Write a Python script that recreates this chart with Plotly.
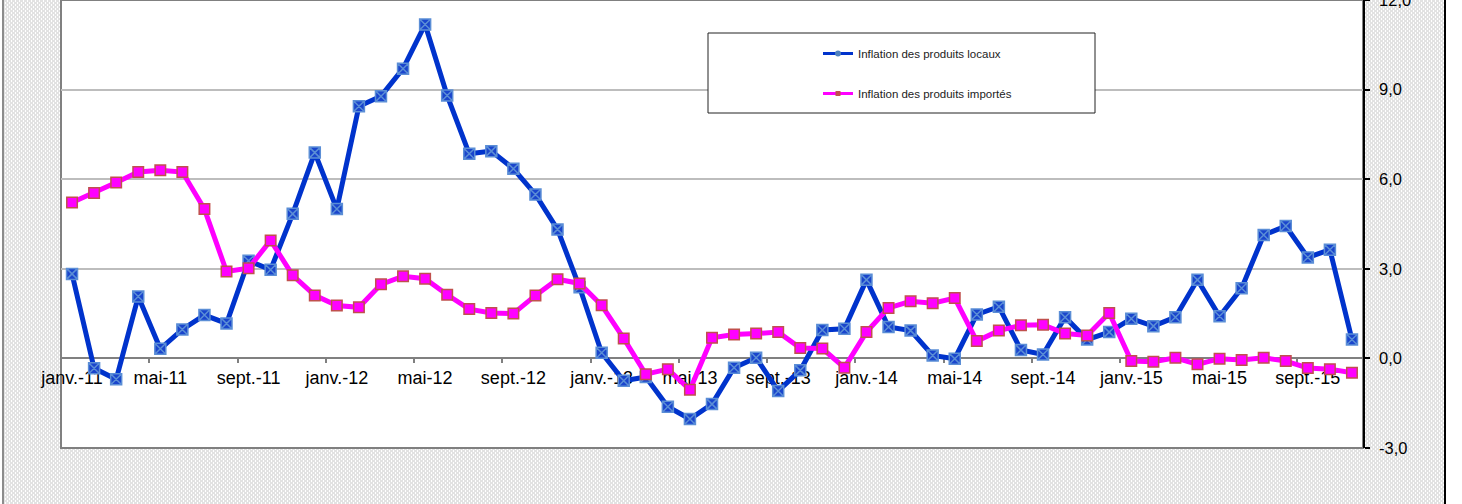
import base64

import plotly.graph_objects as go

# French monthly labels, janv.-11 to nov.-15
mois_fr = ["janv.", "févr.", "mars", "avr.", "mai", "juin", "juil.", "août", "sept.", "oct.", "nov.", "déc."]
mois = [f"{m}-{a}" for a in range(11, 16) for m in mois_fr][:59]

inflation_locaux = [
    2.83, -0.33, -0.70, 2.07, 0.32, 0.97, 1.45, 1.17, 3.27, 2.97,
    4.84, 6.89, 5.00, 8.44, 8.78, 9.70, 11.18, 8.80, 6.85, 6.94,
    6.35, 5.49, 4.32, 2.38, 0.19, -0.75, -0.62, -1.62, -2.03, -1.53,
    -0.31, 0.02, -1.09, -0.40, 0.95, 0.99, 2.63, 1.05, 0.93, 0.10,
    -0.01, 1.47, 1.73, 0.28, 0.13, 1.38, 0.63, 0.88, 1.33, 1.08,
    1.38, 2.63, 1.41, 2.35, 4.13, 4.43, 3.38, 3.64, 0.63,
]
inflation_importes = [
    5.22, 5.54, 5.89, 6.24, 6.30, 6.24, 5.00, 2.91, 3.02, 3.95,
    2.78, 2.11, 1.77, 1.71, 2.48, 2.75, 2.67, 2.13, 1.65, 1.52,
    1.50, 2.11, 2.65, 2.51, 1.78, 0.67, -0.53, -0.36, -1.05, 0.69,
    0.80, 0.83, 0.88, 0.35, 0.33, -0.31, 0.88, 1.69, 1.91, 1.85,
    2.02, 0.58, 0.93, 1.11, 1.13, 0.83, 0.77, 1.52, -0.09, -0.11,
    0.02, -0.20, -0.01, -0.05, 0.02, -0.09, -0.32, -0.36, -0.48,
]
y_ticks = [-3, 0, 3, 6, 9, 12]
y_labels = ["-3,0", "0,0", "3,0", "6,0", "9,0", "12,0"]

W, H = 1462, 504
L, R, T, B = 61, 99, 0, 56
pw, ph = W - L - R, H - T - B
FONT = "Liberation Sans, Arial, sans-serif"

# dotted Excel-like background for the chart area outside the plot
svg = f"""<svg xmlns="http://www.w3.org/2000/svg" width="{W}" height="{H}" viewBox="0 0 {W} {H}">
<defs><pattern id="d" width="4" height="4" patternUnits="userSpaceOnUse">
<rect width="4" height="4" fill="#ffffff"/>
<rect x="0" y="0" width="3" height="2" fill="#e2e2e2"/>
<rect x="2" y="2" width="3" height="2" fill="#e2e2e2"/>
<rect x="-2" y="2" width="3" height="2" fill="#e2e2e2"/>
</pattern></defs>
<rect width="{W}" height="{H}" fill="#ffffff"/>
<rect x="4" y="0" width="1440" height="{H}" fill="url(#d)"/>
<rect x="2" y="0" width="2" height="{H}" fill="#8c8c8c"/>
<rect x="1444" y="0" width="2" height="{H}" fill="#000000"/>
</svg>"""
bg_src = "data:image/svg+xml;base64," + base64.b64encode(svg.encode()).decode()

fig = go.Figure()
fig.add_trace(go.Scatter(
    x=mois, y=inflation_locaux, mode="lines+markers", showlegend=False,
    line=dict(color="#0033CC", width=5),
    marker=dict(symbol="square-x", size=11, color="#1A45CC", line=dict(color="#5B8ED6", width=1.5)),
))
fig.add_trace(go.Scatter(
    x=mois, y=inflation_importes, mode="lines+markers", showlegend=False,
    line=dict(color="#FF00FF", width=5),
    marker=dict(symbol="square", size=10.5, color="#FF00FF", line=dict(color="#C0504D", width=1.5)),
))
# legend entries (Excel style: thin line with small dot)
fig.add_trace(go.Scatter(
    x=[None], y=[None], mode="lines+markers", name="Inflation des produits locaux", legendgroup="a",
    line=dict(color="#0033CC", width=3), marker=dict(symbol="circle", size=6, color="#4F81BD"),
))
fig.add_trace(go.Scatter(
    x=[None], y=[None], mode="lines+markers", name="Inflation des produits importés", legendgroup="b",
    line=dict(color="#FF00FF", width=3), marker=dict(symbol="square", size=5, color="#C0504D"),
))

fig.update_layout(
    width=W, height=H,
    margin=dict(l=L, r=R, t=T, b=B, autoexpand=False),
    paper_bgcolor="white", plot_bgcolor="white",
    font=dict(family=FONT, color="black"),
    images=[dict(source=bg_src, xref="paper", yref="paper", x=-L / pw, y=1 + T / ph,
                 sizex=W / pw, sizey=H / ph, sizing="stretch", xanchor="left", yanchor="top",
                 layer="below")],
    shapes=[
        dict(type="rect", xref="paper", yref="paper", x0=0, x1=1, y0=0, y1=1, layer="below",
             fillcolor="white", line=dict(color="#808080", width=2)),
        # legend frame
        dict(type="rect", xref="paper", yref="paper", layer="above",
             x0=(708 - L) / pw, x1=(1095 - L) / pw, y0=(H - B - 113) / ph, y1=(H - B - 33) / ph,
             fillcolor="white", line=dict(color="#222222", width=1)),
    ],
    legend=dict(
        x=(818 - L) / pw, y=(H - B - 39) / ph, xanchor="left", yanchor="top",
        bgcolor="rgba(0,0,0,0)", borderwidth=0, traceorder="grouped", tracegroupgap=21,
        font=dict(family=FONT, size=11.5, color="#222222"),
    ),
    xaxis=dict(
        type="category", categoryorder="array", categoryarray=mois, range=[-0.5, len(mois) - 0.5],
        tickmode="linear", tick0=0, dtick=4, tickson="boundaries", tickangle=0,
        anchor="free", position=3 / 15, layer="below traces",
        showline=True, linecolor="#808080", linewidth=2,
        ticks="outside", ticklen=4, tickcolor="#808080", tickwidth=1.5,
        showgrid=False, zeroline=False, automargin=False,
        tickfont=dict(family=FONT, size=18, color="black"), ticklabelstandoff=3,
    ),
    yaxis=dict(
        side="right", range=[-3, 12], tickmode="array", tickvals=y_ticks, ticktext=y_labels,
        showline=True, linecolor="black", linewidth=1.5,
        ticks="outside", ticklen=5, tickcolor="black", tickwidth=1.5,
        showgrid=True, gridcolor="#BDBDBD", gridwidth=1.5, zeroline=False, automargin=False,
        tickfont=dict(family=FONT, size=16.5, color="black"), ticklabelstandoff=6,
        ticklabeloverflow="allow",
    ),
)

fig.write_html("out.html", config={"displayModeBar": False},
               post_script="document.body.style.margin='0';")
